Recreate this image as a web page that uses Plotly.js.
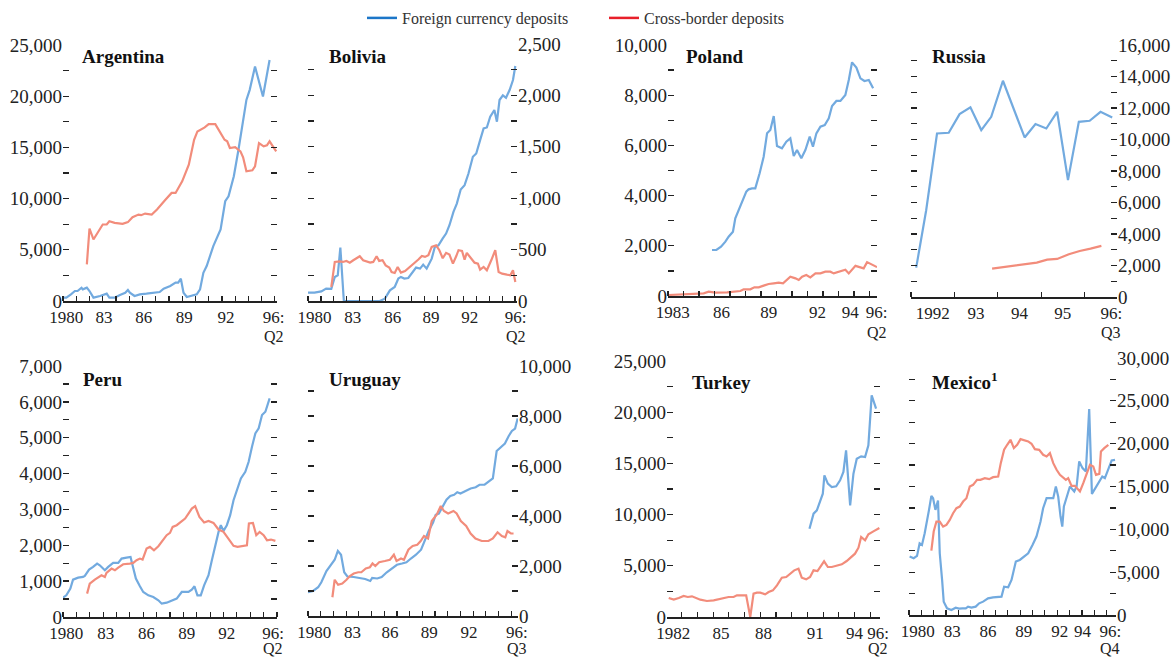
<!DOCTYPE html>
<html><head><meta charset="utf-8">
<script src="https://cdn.plot.ly/plotly-3.0.1.min.js"></script>
<style>html,body{margin:0;padding:0;background:#fff}#chart{width:1175px;height:658px}</style>
</head><body><div id="chart"></div>
<script>
// ---------------- DATA ([year, US$ millions]) ----------------
const seriesNames = ['Foreign currency deposits', 'Cross-border deposits'];
const countryNames = ['Argentina', 'Bolivia', 'Poland', 'Russia', 'Peru', 'Uruguay', 'Turkey', 'Mexico<sup>1</sup>'];
const lastPeriods = ['Q2', 'Q2', 'Q2', 'Q3', 'Q2', 'Q3', 'Q2', 'Q4'];

const argentinaFcd = [[1980.0,325],[1980.25,325],[1980.6,650],[1980.9,975],[1981.1,975],[1981.4,1300],[1981.5,1140],[1981.8,1300],[1982.0,975],[1982.3,325],[1982.8,490],[1983.3,715],[1983.5,325],[1983.9,325],[1984.3,585],[1984.7,810],[1984.9,1070],[1985.05,810],[1985.4,490],[1985.8,650],[1986.3,715],[1986.8,810],[1987.3,875],[1987.6,1200],[1988.1,1460],[1988.5,1790],[1988.7,1790],[1988.9,2175],[1989.1,810],[1989.35,390],[1989.7,490],[1990.1,650],[1990.35,1140],[1990.6,2760],[1990.85,3410],[1991.35,5360],[1991.9,6980],[1992.25,9740],[1992.5,10230],[1992.9,12180],[1993.25,14770],[1993.5,16720],[1993.85,19640],[1994.1,20620],[1994.5,22900],[1995.1,19970],[1995.6,23540]];
const argentinaCbd = [[1981.8,3570],[1982.0,7080],[1982.3,6010],[1982.8,6980],[1983.0,7470],[1983.3,7470],[1983.5,7790],[1983.9,7630],[1984.5,7530],[1984.9,7700],[1985.25,8180],[1985.7,8440],[1985.9,8380],[1986.2,8540],[1986.7,8440],[1987.1,8930],[1987.3,9250],[1987.7,9840],[1988.2,10550],[1988.5,10550],[1989.0,11690],[1989.5,13310],[1989.9,15750],[1990.15,16560],[1990.7,16950],[1991.0,17270],[1991.5,17270],[1991.9,16400],[1992.2,15750],[1992.4,15590],[1992.6,14940],[1993.0,15030],[1993.4,14610],[1993.6,14030],[1993.85,12660],[1994.3,12760],[1994.5,13150],[1994.8,15420],[1995.15,15100],[1995.4,15200],[1995.6,15590],[1995.85,15100],[1996.1,14610]];

const boliviaFcd = [[1980.0,81],[1980.5,81],[1981.03,94],[1981.4,120],[1981.8,117],[1981.94,185],[1982.07,234],[1982.3,250],[1982.5,520],[1982.77,0],[1983.75,0],[1984.8,0],[1985.55,0],[1985.94,23],[1986.33,104],[1986.7,136],[1986.98,218],[1987.18,234],[1987.44,218],[1987.75,224],[1988.1,282],[1988.35,325],[1988.66,315],[1988.9,354],[1989.17,315],[1989.56,412],[1989.8,526],[1990.08,542],[1990.4,607],[1990.67,656],[1990.93,737],[1991.24,867],[1991.5,948],[1991.8,1085],[1992.1,1127],[1992.4,1240],[1992.74,1403],[1993.0,1435],[1993.3,1565],[1993.57,1679],[1993.82,1688],[1994.08,1792],[1994.4,1857],[1994.6,1744],[1994.8,1955],[1995.06,2000],[1995.3,1977],[1995.58,2052],[1995.84,2150],[1996.02,2286]];
const boliviaCbd = [[1981.8,136],[1982.07,380],[1982.45,386],[1982.7,380],[1982.97,390],[1983.23,373],[1983.5,396],[1983.75,412],[1984.0,435],[1984.26,396],[1984.5,386],[1984.8,373],[1985.04,380],[1985.3,435],[1985.5,390],[1985.76,396],[1986.0,347],[1986.28,325],[1986.46,282],[1986.7,273],[1986.93,331],[1987.18,276],[1987.5,292],[1987.83,325],[1988.14,364],[1988.53,403],[1988.8,438],[1989.04,429],[1989.3,445],[1989.56,526],[1989.9,542],[1990.15,494],[1990.41,416],[1990.67,468],[1990.93,451],[1991.2,364],[1991.45,435],[1991.63,494],[1991.9,487],[1992.1,403],[1992.27,468],[1992.53,429],[1992.87,373],[1993.13,364],[1993.3,305],[1993.57,331],[1993.82,299],[1994.16,396],[1994.47,494],[1994.73,282],[1995.0,266],[1995.37,256],[1995.63,250],[1995.84,299],[1996.02,185]];

const polandFcd = [[1985.84,1833],[1986.12,1833],[1986.42,1965],[1986.7,2165],[1986.91,2364],[1987.09,2470],[1987.19,2563],[1987.34,3094],[1987.56,3426],[1987.84,3824],[1988.05,4157],[1988.2,4250],[1988.42,4290],[1988.63,4290],[1988.91,4887],[1989.17,5551],[1989.39,6481],[1989.6,6614],[1989.82,7171],[1990.03,5976],[1990.35,5883],[1990.63,6149],[1990.89,6282],[1991.11,5578],[1991.32,5817],[1991.6,5485],[1991.86,5817],[1992.14,6348],[1992.35,5950],[1992.57,6481],[1992.83,6746],[1993.11,6813],[1993.37,7078],[1993.58,7570],[1993.86,7770],[1994.12,7770],[1994.44,8008],[1994.66,8606],[1994.87,9310],[1995.15,9097],[1995.41,8672],[1995.67,8566],[1995.95,8606],[1996.23,8274]];
const polandCbd = [[1983.04,40],[1983.8,53],[1984.66,66],[1985.3,106],[1985.62,173],[1986.05,133],[1986.81,146],[1987.34,160],[1987.67,199],[1987.88,266],[1988.31,266],[1988.57,345],[1988.85,345],[1989.17,412],[1989.49,478],[1989.82,505],[1990.14,531],[1990.42,505],[1990.68,637],[1990.89,770],[1991.22,704],[1991.43,637],[1991.65,770],[1991.92,837],[1992.18,744],[1992.51,903],[1992.83,903],[1993.15,969],[1993.47,969],[1993.69,900],[1994.44,1050],[1994.66,900],[1995.09,1200],[1995.62,1100],[1995.84,1350],[1996.48,1150]];

const russiaFcd = [[1992.12,1865],[1992.35,5510],[1992.6,10380],[1992.87,10430],[1993.12,11610],[1993.37,12040],[1993.62,10600],[1993.85,11440],[1994.12,13730],[1994.37,11870],[1994.62,10130],[1994.87,10980],[1995.12,10700],[1995.37,11760],[1995.62,7420],[1995.87,11120],[1996.12,11190],[1996.37,11760],[1996.64,11400]];
const russiaCbd = [[1993.87,1800],[1994.14,1910],[1994.4,2013],[1994.64,2120],[1994.9,2180],[1995.14,2373],[1995.37,2416],[1995.64,2712],[1995.89,2924],[1996.14,3072],[1996.39,3242]];

const peruFcd = [[1980.0,540],[1980.25,605],[1980.55,791],[1980.75,1043],[1981.13,1098],[1981.5,1117],[1981.63,1145],[1981.95,1322],[1982.25,1396],[1982.55,1489],[1982.75,1443],[1983.13,1303],[1983.38,1396],[1983.75,1508],[1984.13,1508],[1984.38,1629],[1984.75,1657],[1985.05,1676],[1985.2,1443],[1985.45,1071],[1985.75,856],[1986.0,698],[1986.38,605],[1986.75,559],[1987.13,465],[1987.38,372],[1987.75,400],[1988.13,447],[1988.5,512],[1988.88,698],[1989.13,698],[1989.38,698],[1989.63,763],[1989.83,856],[1990.05,605],[1990.3,605],[1990.55,884],[1990.88,1164],[1991.13,1583],[1991.38,2001],[1991.63,2374],[1991.8,2560],[1992.0,2402],[1992.25,2560],[1992.5,2839],[1992.75,3258],[1993.05,3584],[1993.3,3863],[1993.63,4049],[1993.88,4329],[1994.13,4748],[1994.38,5120],[1994.63,5260],[1994.88,5632],[1995.13,5725],[1995.33,6004],[1995.45,6097]];
const peruCbd = [[1981.8,652],[1982.0,931],[1982.38,1043],[1982.63,1117],[1982.88,1164],[1983.13,1117],[1983.25,1229],[1983.63,1350],[1983.88,1303],[1984.13,1378],[1984.5,1471],[1985.0,1489],[1985.25,1508],[1985.5,1583],[1985.75,1629],[1985.95,1601],[1986.25,1908],[1986.5,1955],[1986.8,1862],[1987.13,1974],[1987.5,2160],[1987.75,2281],[1988.0,2346],[1988.2,2513],[1988.5,2560],[1988.75,2625],[1989.13,2746],[1989.38,2886],[1989.63,3025],[1989.88,3091],[1990.2,2793],[1990.55,2634],[1990.88,2681],[1991.25,2625],[1991.63,2439],[1992.0,2374],[1992.38,2188],[1992.75,1983],[1993.05,1955],[1993.45,1974],[1993.75,2001],[1993.9,2607],[1994.2,2625],[1994.45,2281],[1994.7,2374],[1995.0,2281],[1995.25,2141],[1995.55,2160],[1995.88,2122]];

const uruguayFcd = [[1980.0,950],[1980.4,1000],[1980.8,1150],[1981.05,1350],[1981.45,1800],[1981.85,2050],[1982.1,2250],[1982.35,2600],[1982.6,2450],[1982.85,1750],[1983.1,1580],[1983.6,1560],[1984.0,1530],[1984.5,1480],[1984.9,1400],[1985.05,1520],[1985.45,1500],[1985.8,1560],[1986.2,1750],[1986.6,1900],[1987.0,2050],[1987.4,2100],[1987.75,2150],[1988.1,2300],[1988.5,2450],[1988.9,2650],[1989.2,3050],[1989.5,3400],[1989.85,3750],[1990.05,4050],[1990.3,4100],[1990.6,4400],[1990.9,4650],[1991.2,4800],[1991.5,4850],[1991.75,4950],[1992.0,4900],[1992.4,5000],[1992.8,5100],[1993.2,5150],[1993.5,5250],[1993.9,5250],[1994.3,5400],[1994.55,5500],[1994.85,6600],[1995.2,6750],[1995.5,6900],[1995.8,7200],[1996.05,7400],[1996.3,7500],[1996.5,7900]];
const uruguayCbd = [[1981.92,750],[1982.1,1450],[1982.37,1250],[1982.7,1300],[1983.03,1450],[1983.3,1600],[1983.6,1700],[1983.95,1750],[1984.2,1750],[1984.55,1900],[1984.87,1950],[1985.08,2100],[1985.3,2000],[1985.6,2150],[1986.05,2200],[1986.45,2250],[1986.76,2450],[1986.97,2200],[1987.32,2300],[1987.55,2250],[1987.9,2650],[1988.24,2800],[1988.6,2850],[1988.87,3000],[1989.13,3200],[1989.45,3100],[1989.74,3800],[1990.13,4050],[1990.45,4400],[1990.7,4200],[1991.03,4100],[1991.45,4200],[1991.7,4100],[1992.03,3800],[1992.45,3600],[1992.8,3300],[1993.18,3100],[1993.68,3000],[1994.2,3000],[1994.55,3100],[1994.92,3350],[1995.26,3200],[1995.53,3150],[1995.7,3400],[1995.97,3300],[1996.18,3300]];

const turkeyFcd = [[1991.13,8626],[1991.39,10090],[1991.6,10416],[1991.81,11230],[1991.98,12044],[1992.08,13834],[1992.3,13020],[1992.55,12695],[1992.83,12760],[1993.08,13346],[1993.29,14160],[1993.46,16275],[1993.72,10904],[1993.93,13997],[1994.14,15461],[1994.42,15689],[1994.67,15624],[1994.88,16763],[1995.09,21646],[1995.37,20344]];
const turkeyCbd = [[1982.17,1855],[1982.49,1693],[1982.81,1855],[1983.12,2050],[1983.38,1953],[1983.65,2018],[1984.18,1693],[1984.6,1562],[1985.03,1628],[1985.56,1790],[1985.98,1953],[1986.3,1953],[1986.51,2116],[1987.1,2116],[1987.36,0],[1987.57,2279],[1987.78,2376],[1988.0,2376],[1988.31,2213],[1988.53,2441],[1988.8,2604],[1989.06,3092],[1989.37,3841],[1989.65,3906],[1989.9,4232],[1990.16,4557],[1990.43,4720],[1990.64,3841],[1990.92,3678],[1991.17,3906],[1991.39,4557],[1991.64,4492],[1992.06,5436],[1992.3,4883],[1992.55,4883],[1992.87,5045],[1993.19,5143],[1993.5,5468],[1993.76,5859],[1994.03,6185],[1994.25,6770],[1994.42,7812],[1994.67,7487],[1994.88,8072],[1995.2,8365],[1995.58,8691]];

const mexicoFcd = [[1980.05,6818],[1980.38,6623],[1980.65,6896],[1980.86,8376],[1981.05,8182],[1981.27,9545],[1981.62,12272],[1981.81,13909],[1981.95,13636],[1982.14,12272],[1982.35,13363],[1982.49,7208],[1982.68,4091],[1982.81,1558],[1983.08,779],[1983.43,584],[1983.78,857],[1984.05,740],[1984.32,779],[1984.6,779],[1984.78,974],[1985.05,857],[1985.4,974],[1985.68,1364],[1986.0,1558],[1986.4,1948],[1986.81,2065],[1987.22,2065],[1987.49,2143],[1987.7,3312],[1988.03,3234],[1988.3,4091],[1988.65,6234],[1988.97,6428],[1989.32,6818],[1989.65,7208],[1990.0,8182],[1990.32,9156],[1990.65,10909],[1990.86,12467],[1991.14,13636],[1991.46,13636],[1991.68,13636],[1991.89,15000],[1992.08,13831],[1992.27,11493],[1992.41,10324],[1992.54,12662],[1992.76,13831],[1993.03,15000],[1993.38,14415],[1993.57,15000],[1993.78,17922],[1994.05,17142],[1994.32,16752],[1994.59,24038],[1994.81,14142],[1995.14,15000],[1995.41,15584],[1995.65,16168],[1995.86,15974],[1996.14,17142],[1996.41,18038],[1996.68,18116]];
const mexicoCbd = [[1981.81,7519],[1982.0,9740],[1982.22,10909],[1982.49,10909],[1982.76,10324],[1983.03,10519],[1983.3,11104],[1983.57,11883],[1983.84,12467],[1984.11,12662],[1984.38,13246],[1984.65,13636],[1984.92,15000],[1985.19,15194],[1985.51,15779],[1985.78,15779],[1986.14,15974],[1986.49,15857],[1986.81,16090],[1987.22,16168],[1987.43,17727],[1987.7,19285],[1987.95,19870],[1988.22,20454],[1988.49,19480],[1988.76,19870],[1989.03,20532],[1989.38,20376],[1989.65,20259],[1989.92,19987],[1990.19,19363],[1990.54,19285],[1990.86,18701],[1991.14,18506],[1991.41,18896],[1991.68,17727],[1991.95,16947],[1992.22,16363],[1992.49,15974],[1992.7,15779],[1992.89,15974],[1993.16,15077],[1993.43,15077],[1993.84,14415],[1994.11,15389],[1994.38,16558],[1994.65,17532],[1994.92,17337],[1995.14,16363],[1995.41,16480],[1995.54,19090],[1995.81,19480],[1996.14,19870]];

// x-axis tick labels (text, and the year each label sits at)
const argentinaXLabels = ['1980','83','86','89','92','96:'];
const argentinaXLabelYears = [1980.25,1983.1,1986.1,1989.15,1992.3,1995.9];
const boliviaXLabels = ['1980','83','86','89','92','96:'];
const boliviaXLabelYears = [1980.5,1983.45,1986.55,1989.5,1992.5,1996.05];
const polandXLabels = ['1983','86','89','92','94','96:'];
const polandXLabelYears = [1983.3,1986.45,1989.5,1992.65,1994.75,1996.45];
const russiaXLabels = ['1992','93','94','95','96:'];
const russiaXLabelYears = [1992.5,1993.5,1994.5,1995.5,1996.62];
const peruXLabels = ['1980','83','86','89','92','96:'];
const peruXLabelYears = [1980.25,1983.2,1986.25,1989.25,1992.25,1995.7];
const uruguayXLabels = ['1980','83','86','89','92','96:'];
const uruguayXLabelYears = [1980.5,1983.5,1986.45,1989.55,1992.68,1996.45];
const turkeyXLabels = ['1982','85','88','91','94','96:'];
const turkeyXLabelYears = [1982.45,1985.5,1988.2,1991.5,1994.0,1995.5];
const mexicoXLabels = ['1980','83','86','89','92','94','96:'];
const mexicoXLabelYears = [1980.7,1983.5,1986.4,1989.3,1992.2,1994.05,1996.3];

// ---------------- LAYOUT / STYLE ----------------
const W = 1175, H = 658;
const FONT = '"Liberation Serif", "Times New Roman", Times, serif';
const LINE_BLUE = 'rgb(114,170,223)';
const LINE_RED = 'rgb(242,140,123)';
const LEG_BLUE = 'rgb(28,118,200)';
const LEG_RED = 'rgb(232,32,42)';

const panels = [
  {fcd: argentinaFcd, cbd: argentinaCbd, box: [63,277,45,301], side: 'left',  ymax: 25000, ystep: 5000, xr: [1980,1996.16], xl: argentinaXLabels, xv: argentinaXLabelYears, t: [80,56], q: 35},
  {fcd: boliviaFcd,   cbd: boliviaCbd,   box: [308,517,44,301], side: 'right', ymax: 2500,  ystep: 500,  xr: [1980,1996.15], xl: boliviaXLabels,   xv: boliviaXLabelYears,   t: [327,56], q: 35},
  {fcd: polandFcd,    cbd: polandCbd,    box: [668,877,45,296], side: 'left',  ymax: 10000, ystep: 2000, xr: [1983,1996.48], xl: polandXLabels,    xv: polandXLabelYears,    t: [684,56], q: 37},
  {fcd: russiaFcd,    cbd: russiaCbd,    box: [911,1117,45,297], side: 'right', ymax: 16000, ystep: 2000, xr: [1992,1996.75], xl: russiaXLabels,   xv: russiaXLabelYears,    t: [930,56], q: 36},
  {fcd: peruFcd,      cbd: peruCbd,      box: [63,277,366,617], side: 'left',  ymax: 7000,  ystep: 1000, xr: [1980,1996.0],  xl: peruXLabels,      xv: peruXLabelYears,      t: [81,379], q: 31},
  {fcd: uruguayFcd,   cbd: uruguayCbd,   box: [308,518,366,616], side: 'right', ymax: 10000, ystep: 2000, xr: [1980,1996.53], xl: uruguayXLabels,  xv: uruguayXLabelYears,   t: [327,379], q: 32},
  {fcd: turkeyFcd,    cbd: turkeyCbd,    box: [667,880,361,617], side: 'left',  ymax: 25000, ystep: 5000, xr: [1982.06,1995.62], xl: turkeyXLabels, xv: turkeyXLabelYears,   t: [690,382], q: 31},
  {fcd: mexicoFcd,    cbd: mexicoCbd,    box: [909,1116,358,615], side: 'right', ymax: 30000, ystep: 5000, xr: [1980,1996.76], xl: mexicoXLabels,   xv: mexicoXLabelYears,    t: [930,381], q: 33}
];

const traces = [];
const layout = {
  width: W, height: H,
  margin: {l: 0, r: 0, t: 0, b: 0},
  paper_bgcolor: '#fff', plot_bgcolor: 'rgba(0,0,0,0)',
  font: {family: FONT, color: '#222', size: 17},
  hovermode: false,
  showlegend: true,
  legend: {orientation: 'h', x: 362 / W, xanchor: 'left', y: 1 - 1 / H, yanchor: 'top',
           font: {family: FONT, size: 16, color: '#333'}, bgcolor: 'rgba(0,0,0,0)', itemwidth: 30},
  legend2: {orientation: 'h', x: 604 / W, xanchor: 'left', y: 1 - 1 / H, yanchor: 'top',
           font: {family: FONT, size: 16, color: '#333'}, bgcolor: 'rgba(0,0,0,0)', itemwidth: 30},
  annotations: []
};

panels.forEach((p, i) => {
  const n = i + 1;
  const sfx = n === 1 ? '' : String(n);
  const xref = 'x' + sfx, yref = 'y' + sfx;
  [[p.fcd, LINE_BLUE], [p.cbd, LINE_RED]].forEach(([d, c]) => {
    traces.push({type: 'scatter', mode: 'lines', x: d.map(q => q[0]), y: d.map(q => q[1]),
      xaxis: xref, yaxis: yref, line: {color: c, width: 2.2}, showlegend: false, hoverinfo: 'skip'});
  });
  const [x0, x1, y0, y1] = p.box;
  layout['xaxis' + sfx] = {
    domain: [x0 / W, x1 / W], anchor: yref, range: p.xr, fixedrange: true,
    showline: true, linecolor: '#222', linewidth: 1.5, showgrid: false, zeroline: false,
    tickmode: 'array', tickvals: p.xv, ticktext: p.xl, ticks: '',
    tickfont: {family: FONT, size: 17, color: '#222'},
    minor: {tick0: Math.ceil(p.xr[0]), dtick: 1, ticks: 'inside', ticklen: 5, tickwidth: 1.2, tickcolor: '#222'}
  };
  const tv = [], tt = [];
  for (let k = 0; k * p.ystep / 2 <= p.ymax + 1e-9; k++) {
    const v = k * p.ystep / 2;
    tv.push(v);
    tt.push(k % 2 === 0 ? v.toLocaleString('en-US') : '');
  }
  layout['yaxis' + sfx] = {
    domain: [1 - y1 / H, 1 - y0 / H], anchor: xref, range: [0, p.ymax], side: p.side, fixedrange: true,
    tickmode: 'array', tickvals: tv, ticktext: tt, ticks: 'inside', ticklen: 6, tickwidth: 1.3, tickcolor: '#222',
    mirror: 'ticks', showline: false, showgrid: false, zeroline: false,
    tickfont: {family: FONT, size: 19, color: '#222'}
  };
  layout.annotations.push({xref: 'paper', yref: 'paper', x: p.t[0] / W, y: 1 - p.t[1] / H,
    xanchor: 'left', yanchor: 'middle', showarrow: false, text: '<b>' + countryNames[i] + '</b>',
    font: {family: FONT, size: 19, color: '#111'}});
  // second line of the last x label ("Q2", "Q3", ...)
  layout.annotations.push({xref: xref, yref: 'paper', x: p.xv[p.xv.length - 1], y: 1 - (y1 + p.q) / H,
    xanchor: 'center', yanchor: 'middle', showarrow: false, text: lastPeriods[i],
    font: {family: FONT, size: 16, color: '#222'}});
});

traces.push({type: 'scatter', mode: 'lines', x: [null], y: [null], name: seriesNames[0], legend: 'legend', line: {color: LEG_BLUE, width: 2.5}, showlegend: true});
traces.push({type: 'scatter', mode: 'lines', x: [null], y: [null], name: seriesNames[1], legend: 'legend2', line: {color: LEG_RED, width: 2.5}, showlegend: true});

Plotly.newPlot('chart', traces, layout, {staticPlot: true, displayModeBar: false});
</script>
</body></html>
